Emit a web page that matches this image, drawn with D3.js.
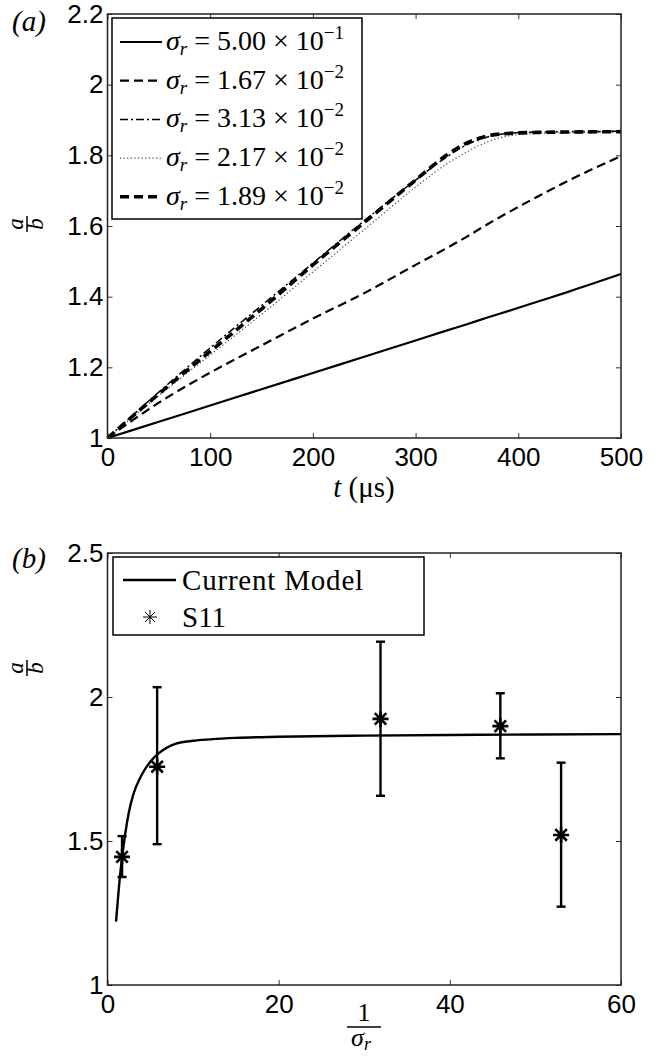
<!DOCTYPE html>
<html>
<head>
<meta charset="utf-8">
<script src="https://cdn.jsdelivr.net/npm/d3@7"></script>
<style>
  body { margin: 0; background: #fff; }
  .tick text { font-family: "Liberation Sans", Arial, sans-serif; font-size: 26px; fill: #000; }
  .serif { font-family: "Liberation Serif", "Times New Roman", serif; }
</style>
</head>
<body>
<div id="chart"></div>
<script>
// panel (a): a/b against time, one curve per sigma_r
const tValues = [0, 50, 100, 150, 200, 250, 300, 330, 350, 370, 390, 420, 450, 500];
const curveSolid   = [1, 1.046, 1.092, 1.138, 1.184, 1.230, 1.276, 1.304, 1.322, 1.341, 1.359, 1.387, 1.415, 1.464];
const curveDashed  = [1, 1.100, 1.185, 1.262, 1.338, 1.410, 1.490, 1.537, 1.570, 1.605, 1.638, 1.685, 1.730, 1.798];
const curveDashDot = [1, 1.130, 1.255, 1.375, 1.495, 1.615, 1.730, 1.795, 1.830, 1.852, 1.862, 1.866, 1.867, 1.868];
const curveDotted  = [1, 1.120, 1.235, 1.350, 1.470, 1.590, 1.710, 1.775, 1.810, 1.838, 1.855, 1.862, 1.864, 1.865];
const curveThick   = [1, 1.125, 1.245, 1.365, 1.490, 1.610, 1.730, 1.800, 1.835, 1.855, 1.862, 1.865, 1.866, 1.867];
const legendMantissa = ["5.00", "1.67", "3.13", "2.17", "1.89"];
const legendExponent = ["\u22121", "\u22122", "\u22122", "\u22122", "\u22122"];
const ticksTA = [0, 100, 200, 300, 400, 500];
const ticksYA = [1, 1.2, 1.4, 1.6, 1.8, 2, 2.2];

// panel (b): model curve and S11 points
const invSigma = [1, 1.5, 2, 2.5, 3, 4, 5, 6, 7, 8, 10, 12, 15, 20, 30, 40, 50, 60];
const modelRatio = [1.22, 1.39, 1.51, 1.60, 1.66, 1.73, 1.775, 1.805, 1.825, 1.838, 1.848, 1.853, 1.858, 1.862, 1.866, 1.868, 1.870, 1.871];
const s11X = [1.7, 5.8, 31.9, 45.9, 53.0];
const s11Y = [1.445, 1.758, 1.924, 1.899, 1.521];
const s11Lo = [1.375, 1.489, 1.657, 1.787, 1.272];
const s11Hi = [1.517, 2.034, 2.192, 2.013, 1.772];
const ticksXB = [0, 20, 40, 60];
const ticksYB = [1, 1.5, 2, 2.5];

const W = 668, H = 1059;
const boxA = {left: 107.5, right: 621, top: 14, bottom: 438};
const boxB = {left: 107.5, right: 621, top: 553, bottom: 985};

let svg = d3.select("#chart").append("svg")
    .attr("width", W)
    .attr("height", H)
    .style("background", "#fff");

// star marker like matlab '*'
const asterisk = {
  draw(ctx, size) {
    const r = Math.sqrt(size) / 2, d = r * 0.72;
    ctx.moveTo(-r, 0); ctx.lineTo(r, 0);
    ctx.moveTo(0, -r); ctx.lineTo(0, r);
    ctx.moveTo(-d, -d); ctx.lineTo(d, d);
    ctx.moveTo(-d, d); ctx.lineTo(d, -d);
  }
};

function drawAxes(g, x, y, box, xt, yt) {
  g.append("g")
      .attr("transform", `translate(0, ${box.bottom})`)
      .call(d3.axisBottom(x).tickValues(xt).tickSize(-5).tickPadding(10).tickFormat(d3.format("~g")));
  g.append("g")
      .attr("transform", `translate(0, ${box.top})`)
      .call(d3.axisTop(x).tickValues(xt).tickSize(-5).tickFormat(""));
  g.append("g")
      .attr("transform", `translate(${box.left}, 0)`)
      .call(d3.axisLeft(y).tickValues(yt).tickSize(-5).tickPadding(4).tickFormat(d3.format("~g")));
  g.append("g")
      .attr("transform", `translate(${box.right}, 0)`)
      .call(d3.axisRight(y).tickValues(yt).tickSize(-5).tickFormat(""));
  g.selectAll(".domain").remove();
  g.selectAll(".tick line").attr("stroke", "#333").attr("stroke-width", 1);
  g.append("rect")
      .attr("x", box.left).attr("y", box.top)
      .attr("width", box.right - box.left).attr("height", box.bottom - box.top)
      .attr("fill", "none").attr("stroke", "#222").attr("stroke-width", 1.5);
}

// rotated a/b fraction
function fracLabel(g, cx, cy) {
  let f = g.append("g").attr("transform", `translate(${cx}, ${cy}) rotate(-90)`);
  f.append("text").attr("class", "serif").attr("x", 0).attr("y", -4)
      .attr("text-anchor", "middle").style("font-size", "23px").style("font-style", "italic").text("a");
  f.append("line").attr("x1", -8).attr("x2", 8).attr("y1", 0).attr("y2", 0)
      .attr("stroke", "#000").attr("stroke-width", 1.5);
  f.append("text").attr("class", "serif").attr("x", 0).attr("y", 16)
      .attr("text-anchor", "middle").style("font-size", "23px").style("font-style", "italic").text("b");
}

////////////////////////////////////////////////////////////////////////
// panel (a)
let gA = svg.append("g");
let xA = d3.scaleLinear().domain([0, 500]).range([boxA.left, boxA.right]);
let yA = d3.scaleLinear().domain([1, 2.2]).range([boxA.bottom, boxA.top]);

const stylesA = [
  {data: curveSolid,   width: 2.2, dash: null,      color: "#000"},
  {data: curveDashed,  width: 2.2, dash: "9,5",     color: "#000"},
  {data: curveDashDot, width: 1.5, dash: "8,3,2,3", color: "#000"},
  {data: curveDotted,  width: 1.2, dash: "1.2,2.4", color: "#444"},
  {data: curveThick,   width: 3.6, dash: "9,5",     color: "#000"}
];

let lineA = d3.line()
    .x(function(d, i) { return xA(tValues[i]); })
    .y(function(d) { return yA(d); })
    .curve(d3.curveMonotoneX);

stylesA.forEach(function(s) {
  gA.append("path")
      .attr("d", lineA(s.data))
      .attr("fill", "none")
      .attr("stroke", s.color)
      .attr("stroke-width", s.width)
      .attr("stroke-dasharray", s.dash);
});

drawAxes(gA, xA, yA, boxA, ticksTA, ticksYA);

// legend (a)
gA.append("rect")
    .attr("x", 112).attr("y", 18).attr("width", 250).attr("height", 201)
    .attr("fill", "#fff").attr("stroke", "#000").attr("stroke-width", 1.5);

stylesA.forEach(function(s, i) {
  let yy = 42 + i * 38.7;
  gA.append("line")
      .attr("x1", 120).attr("x2", 162).attr("y1", yy).attr("y2", yy)
      .attr("stroke", s.color).attr("stroke-width", s.width)
      .attr("stroke-dasharray", s.dash);
  let t = gA.append("text").attr("class", "serif")
      .attr("x", 166).attr("y", yy + 8)
      .style("font-size", "28px");
  t.append("tspan").style("font-style", "italic").text("\u03c3");
  t.append("tspan").style("font-style", "italic").style("font-size", "19px").attr("dy", 5).text("r");
  t.append("tspan").attr("dy", -5).text(" = " + legendMantissa[i] + " \u00d7 10");
  t.append("tspan").style("font-size", "19px").attr("dy", -11).text(legendExponent[i]);
});

gA.append("text").attr("class", "serif")
    .attr("x", 12).attr("y", 31)
    .style("font-size", "29px").style("font-style", "italic")
    .text("(a)");

let xlab = gA.append("text").attr("class", "serif")
    .attr("x", 364).attr("y", 497)
    .attr("text-anchor", "middle")
    .style("font-size", "29px");
xlab.append("tspan").style("font-style", "italic").text("t");
xlab.append("tspan").text(" (\u03bcs)");

fracLabel(gA, 27, 224);

////////////////////////////////////////////////////////////////////////
// panel (b)
let gB = svg.append("g");
let xB = d3.scaleLinear().domain([0, 60]).range([boxB.left, boxB.right]);
let yB = d3.scaleLinear().domain([1, 2.5]).range([boxB.bottom, boxB.top]);

let lineB = d3.line()
    .x(function(d, i) { return xB(invSigma[i]); })
    .y(function(d) { return yB(d); })
    .curve(d3.curveMonotoneX);

gB.append("path")
    .attr("d", lineB(modelRatio))
    .attr("fill", "none")
    .attr("stroke", "#000")
    .attr("stroke-width", 2.4);

s11X.forEach(function(v, i) {
  let px = xB(v);
  gB.append("line")
      .attr("x1", px).attr("x2", px).attr("y1", yB(s11Lo[i])).attr("y2", yB(s11Hi[i]))
      .attr("stroke", "#000").attr("stroke-width", 2.4);
  [s11Lo[i], s11Hi[i]].forEach(function(e) {
    gB.append("line")
        .attr("x1", px - 4.5).attr("x2", px + 4.5).attr("y1", yB(e)).attr("y2", yB(e))
        .attr("stroke", "#000").attr("stroke-width", 2.4);
  });
  gB.append("path")
      .attr("transform", `translate(${px}, ${yB(s11Y[i])})`)
      .attr("d", d3.symbol().type(asterisk).size(256)())
      .attr("fill", "none").attr("stroke", "#000").attr("stroke-width", 2.6);
});

drawAxes(gB, xB, yB, boxB, ticksXB, ticksYB);

// legend (b)
gB.append("rect")
    .attr("x", 113).attr("y", 557).attr("width", 311).attr("height", 78)
    .attr("fill", "#fff").attr("stroke", "#000").attr("stroke-width", 1.5);
gB.append("line")
    .attr("x1", 123).attr("x2", 176).attr("y1", 580).attr("y2", 580)
    .attr("stroke", "#000").attr("stroke-width", 2.4);
gB.append("text").attr("class", "serif")
    .attr("x", 182).attr("y", 590).style("font-size", "29px")
    .style("letter-spacing", "0.8px")
    .text("Current Model");
gB.append("path")
    .attr("transform", "translate(150, 617)")
    .attr("d", d3.symbol().type(asterisk).size(196)())
    .attr("fill", "none").attr("stroke", "#000").attr("stroke-width", 1);
gB.append("text").attr("class", "serif")
    .attr("x", 182).attr("y", 627).style("font-size", "29px")
    .text("S11");

gB.append("text").attr("class", "serif")
    .attr("x", 12).attr("y", 568)
    .style("font-size", "29px").style("font-style", "italic")
    .text("(b)");

// x label 1/sigma_r
let fx = gB.append("g").attr("transform", "translate(364, 1027)");
fx.append("text").attr("class", "serif").attr("x", 0).attr("y", -6)
    .attr("text-anchor", "middle").style("font-size", "26px").text("1");
fx.append("line").attr("x1", -17).attr("x2", 17).attr("y1", 0).attr("y2", 0)
    .attr("stroke", "#000").attr("stroke-width", 1.5);
let sg = fx.append("text").attr("class", "serif").attr("x", -3).attr("y", 19)
    .attr("text-anchor", "middle").style("font-size", "26px");
sg.append("tspan").style("font-style", "italic").text("\u03c3");
sg.append("tspan").style("font-style", "italic").style("font-size", "18px").attr("dy", 4).text("r");

fracLabel(gB, 27, 668);
</script>
</body>
</html>
